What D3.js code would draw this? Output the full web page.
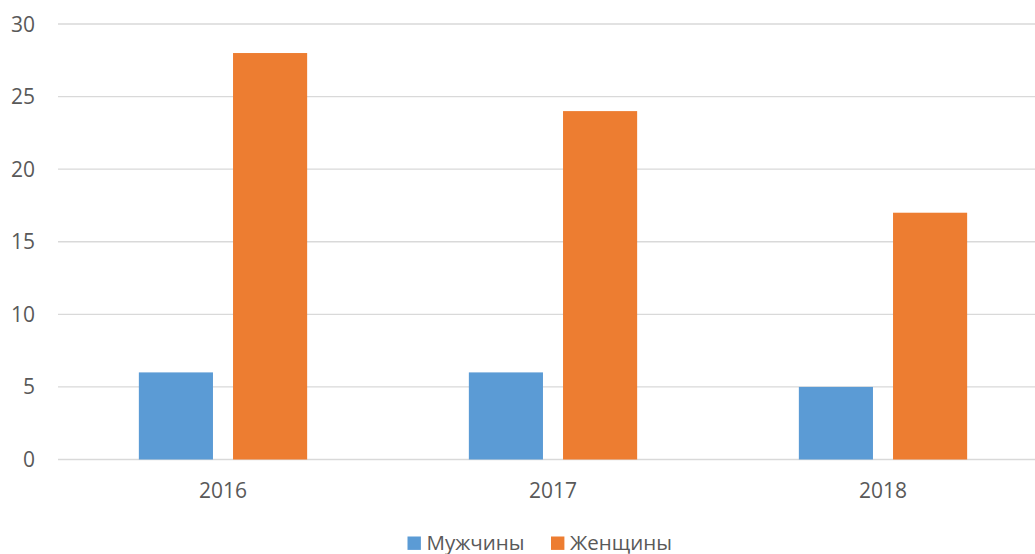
<!DOCTYPE html>
<html>
<head>
<meta charset="utf-8">
<script src="https://cdn.jsdelivr.net/npm/d3@7"></script>
<style>
html, body { margin: 0; padding: 0; background: #fff; }
svg { display: block; }
text { font-family: "Open Sans", "DejaVu Sans", sans-serif; fill: #595959; }
</style>
</head>
<body>
<svg id="chart" width="1035" height="554"></svg>
<script>
const categories = ["2016", "2017", "2018"];
const seriesNames = ["Мужчины", "Женщины"];
const men = [6, 6, 5];
const women = [28, 24, 17];
const yTicks = [0, 5, 10, 15, 20, 25, 30];
const colors = ["#5B9BD5", "#ED7D31"];

const seriesValues = [men, women];
const svg = d3.select("#chart");

const x0 = d3.scaleBand().domain(categories).range([58, 1048]).paddingInner(0.49).paddingOuter(0.245);
const x1 = d3.scaleBand().domain(seriesNames).range([0, x0.bandwidth()]).paddingInner(0.213);
const y = d3.scaleLinear().domain([0, 30]).range([459.5, 24]);

// gridlines
svg.append("g").selectAll("line").data(yTicks).join("line")
  .attr("x1", 58).attr("x2", 1048)
  .attr("y1", d => y(d)).attr("y2", d => y(d))
  .attr("stroke", "#D9D9D9").attr("stroke-width", 1.3);

// y labels
svg.append("g").selectAll("text").data(yTicks).join("text")
  .attr("x", 35).attr("y", d => y(d)).attr("dy", "0.36em")
  .attr("text-anchor", "end").attr("font-size", 21)
  .text(d => d);

// bars
const groups = svg.append("g").selectAll("g").data(categories).join("g")
  .attr("transform", c => `translate(${x0(c)},0)`);
groups.selectAll("rect").data((c, i) => seriesNames.map((s, j) => ({ s, j, v: seriesValues[j][i] })))
  .join("rect")
  .attr("x", d => x1(d.s))
  .attr("width", x1.bandwidth())
  .attr("y", d => y(d.v))
  .attr("height", d => y(0) - y(d.v))
  .attr("fill", d => colors[d.j]);

// x labels
svg.append("g").selectAll("text").data(categories).join("text")
  .attr("x", c => x0(c) + x0.bandwidth() / 2).attr("y", 498)
  .attr("text-anchor", "middle").attr("font-size", 21)
  .text(c => c);

// legend
const legendX = [407.5, 551];
const lg = svg.append("g").selectAll("g").data(seriesNames).join("g")
  .attr("transform", (d, i) => `translate(${legendX[i]},0)`);
lg.append("rect").attr("x", 0).attr("y", 536.5).attr("width", 13.4).attr("height", 13.4)
  .attr("fill", (d, i) => colors[i]);
lg.append("text").attr("x", 19).attr("y", 549.5).attr("font-size", 20.5).text(d => d);
</script>
</body>
</html>
